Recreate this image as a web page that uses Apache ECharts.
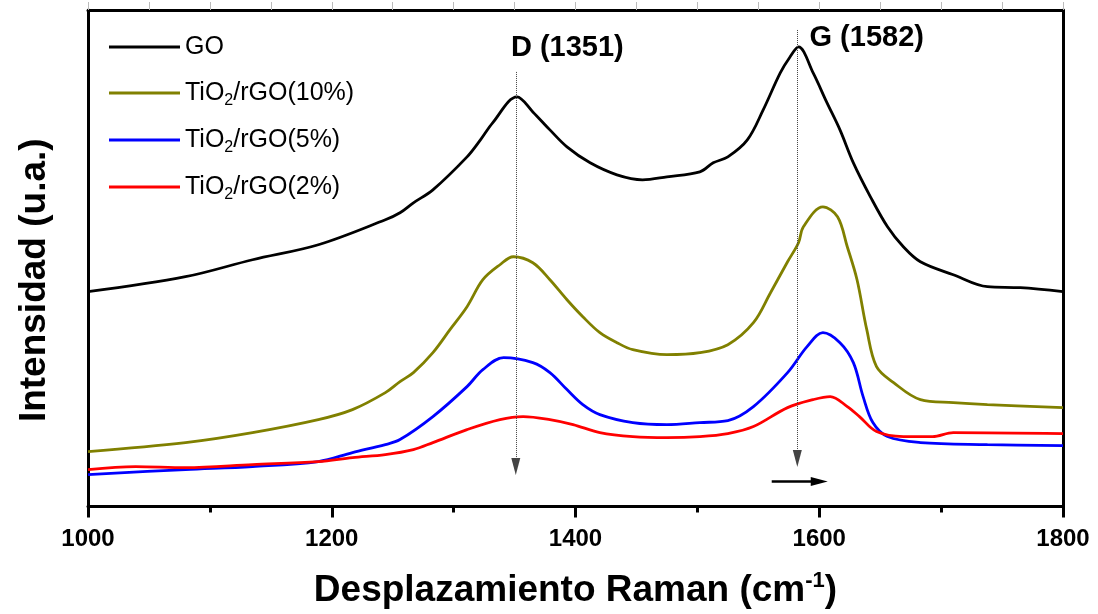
<!DOCTYPE html>
<html>
<head>
<meta charset="utf-8">
<script src="https://cdn.jsdelivr.net/npm/echarts@6/dist/echarts.min.js"></script>
<style>
html,body{margin:0;padding:0;background:#fff;}
#c{width:1098px;height:614px;}
</style>
</head>
<body>
<div id="c"></div>
<script>
// ---- data (Raman shift in cm-1, intensity in arbitrary units) ----
var seriesNames = ['GO', 'TiO2/rGO(10%)', 'TiO2/rGO(5%)', 'TiO2/rGO(2%)'];
var seriesColors = ['#000000', '#808000', '#0000ff', '#ff0000'];

var goX  = [1000,1080,1135,1189,1244,1256,1267,1283,1311,1322,1332,1352,1365,1379,1393,1412,1434,1455,1475,1502,1513,1525,1541,1554,1568,1576,1583,1595,1606,1617,1628,1642,1656,1669,1683,1710,1738,1765,1800];
var goY  = [215,230,247,262,287,294,304,317,350,367,384,410,395,377,360,344,332,327,330,335,344,350,367,397,434,450,460,434,405,377,344,310,280,260,245,232,220,219,215];

var g10X = [1000,1080,1135,1189,1217,1244,1256,1267,1283,1297,1311,1324,1338,1349,1365,1379,1393,1406,1420,1434,1447,1475,1502,1525,1546,1560,1574,1583,1587,1603,1615,1623,1631,1639,1647,1661,1683,1710,1738,1800];
var g10Y = [55,64,74,87,97,114,125,134,154,177,200,227,242,250,244,227,207,190,174,164,157,152,154,162,184,214,245,264,280,300,290,260,227,177,140,124,107,104,102,99];

var g5X  = [1000,1080,1135,1189,1217,1244,1256,1283,1311,1324,1341,1365,1379,1393,1406,1420,1447,1475,1502,1525,1546,1574,1590,1603,1617,1628,1636,1644,1656,1683,1738,1800];
var g5Y  = [32,37,40,45,54,62,67,90,120,137,149,144,134,117,102,92,84,82,84,86,100,134,160,174,164,144,110,84,70,64,62,61];

var g2X  = [1000,1039,1080,1135,1189,1217,1244,1267,1283,1311,1338,1357,1379,1398,1420,1447,1475,1502,1525,1546,1574,1595,1609,1623,1633,1647,1669,1693,1710,1800];
var g2Y  = [37,40,39,42,45,49,52,57,64,77,87,90,87,82,74,70,69,70,73,80,99,107,110,100,90,75,70,70,74,73];

var xTicks = [1000, 1200, 1400, 1600, 1800];
var peakD = 1351, peakG = 1582;

function pairs(xs, ys) { return xs.map(function (x, i) { return [x, ys[i]]; }); }
var allData = [pairs(goX, goY), pairs(g10X, g10Y), pairs(g5X, g5Y), pairs(g2X, g2Y)];

var FONT = '"Liberation Sans", Arial, sans-serif';
var chart = echarts.init(document.getElementById('c'), null, {renderer: 'canvas'});

var series = allData.map(function (d, i) {
  return {
    name: seriesNames[i], type: 'line', data: d, showSymbol: false, symbol: 'none',
    smooth: 0.35, lineStyle: {color: seriesColors[i], width: 2.8}, itemStyle: {color: seriesColors[i]},
    z: 3
  };
});

// annotations (arrows + labels) attached to the first series
series[0].markLine = {
  silent: true, animation: false,
  symbol: ['none', 'triangle'], symbolSize: [9, 17],
  label: {show: false},
  data: [
    [{coord: [peakD, 435], lineStyle: {type: 'dotted', color: '#444', width: 1}}, {coord: [peakD, 40]}],
    [{coord: [peakG, 477], lineStyle: {type: 'dotted', color: '#444', width: 1}}, {coord: [peakG, 48]}],
    [{coord: [1561, 25], lineStyle: {type: 'solid', color: '#000', width: 2.5}, symbolSize: [12, 20]}, {coord: [1600, 25]}]
  ]
};
series[0].markPoint = {
  silent: true, animation: false, symbol: 'circle', symbolSize: 0,
  label: {show: true, position: 'inside', align: 'left', color: '#000', fontFamily: FONT, fontWeight: 'bold', fontSize: 29},
  data: [
    {coord: [1347, 459], value: 'D (' + peakD + ')', label: {formatter: 'D (' + peakD + ')'}},
    {coord: [1592, 469], value: 'G (' + peakG + ')', label: {formatter: 'G (' + peakG + ')'}}
  ]
};

chart.setOption({
  animation: false,
  backgroundColor: '#fff',
  grid: {left: 88, right: 35, top: 10, bottom: 107, containLabel: false},
  legend: {
    orient: 'vertical', left: 104, top: 27, itemWidth: 71, itemHeight: 3, itemGap: 15,
    icon: 'rect',
    data: seriesNames,
    formatter: function (n) { return n.replace('TiO2', 'TiO{s|2}'); },
    textStyle: {
      fontFamily: FONT, fontSize: 25, color: '#000', lineHeight: 30,
      rich: {s: {fontFamily: FONT, fontSize: 16, color: '#000', padding: [16, 0, 0, 0], lineHeight: 30}}
    }
  },
  xAxis: [
    {
      type: 'value', position: 'bottom', min: 1000, max: 1800, interval: 200,
      axisLine: {show: true, onZero: false, lineStyle: {color: '#000', width: 3}},
      axisTick: {show: true, inside: false, length: 11, lineStyle: {color: '#000', width: 3}},
      minorTick: {show: true, splitNumber: 2, length: 6, lineStyle: {color: '#000', width: 3}},
      splitLine: {show: false},
      axisLabel: {show: true, margin: 21, color: '#000', fontFamily: FONT, fontWeight: 'bold', fontSize: 24,
        formatter: function (v) { return xTicks.indexOf(v) >= 0 ? String(v) : ''; }},
      name: 'Desplazamiento Raman (cm{sup|-1})', nameLocation: 'middle', nameGap: 63,
      nameTextStyle: {color: '#000', fontFamily: FONT, fontWeight: 'bold', fontSize: 37,
        rich: {sup: {fontFamily: FONT, fontWeight: 'bold', fontSize: 22, color: '#000', padding: [0, 0, 20, 0]}}}
    },
    {
      type: 'value', position: 'top', min: 1000, max: 1800, interval: 50,
      axisLine: {show: true, onZero: false, lineStyle: {color: '#000', width: 3}},
      axisTick: {show: true, inside: false, length: 8, lineStyle: {color: '#bbb', width: 1}},
      axisLabel: {show: false}, splitLine: {show: false}
    }
  ],
  yAxis: [
    {
      type: 'value', position: 'left', min: 0, max: 497,
      axisLine: {show: true, onZero: false, lineStyle: {color: '#000', width: 3}},
      axisTick: {show: false}, axisLabel: {show: false}, splitLine: {show: false},
      name: 'Intensidad (u.a.)', nameLocation: 'middle', nameGap: 35, nameRotate: 90,
      nameTextStyle: {color: '#000', fontFamily: FONT, fontWeight: 'bold', fontSize: 37, padding: [0, 44, 0, 0]}
    },
    {
      type: 'value', position: 'right', min: 0, max: 497,
      axisLine: {show: true, onZero: false, lineStyle: {color: '#000', width: 3}},
      axisTick: {show: false}, axisLabel: {show: false}, splitLine: {show: false}
    }
  ],
  series: series
});
</script>
</body>
</html>
